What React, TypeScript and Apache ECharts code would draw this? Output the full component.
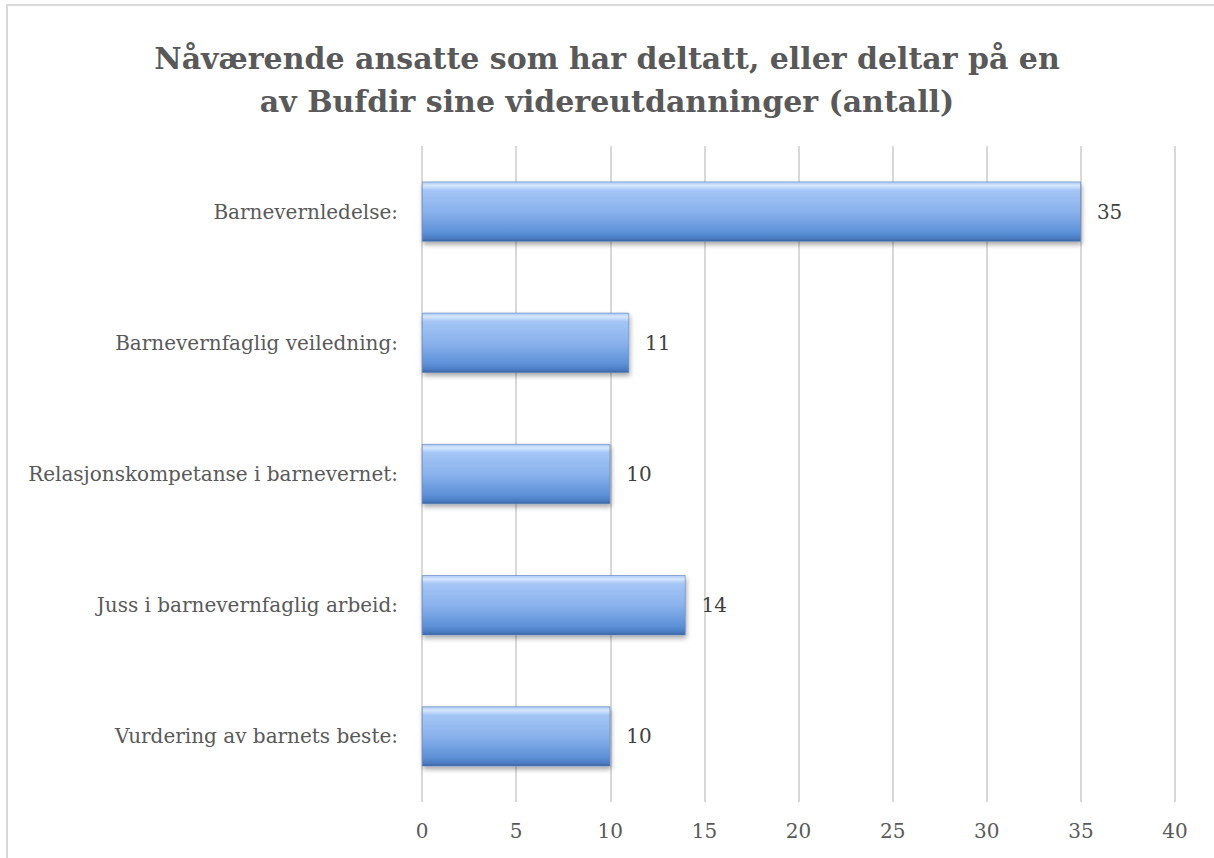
import React, { useEffect, useRef } from "react";
import * as echarts from "echarts";

const titleText = "Nåværende ansatte som har deltatt, eller deltar på en\nav Bufdir sine videreutdanninger (antall)";
const categories = [
  "Barnevernledelse:",
  "Barnevernfaglig veiledning:",
  "Relasjonskompetanse i barnevernet:",
  "Juss i barnevernfaglig arbeid:",
  "Vurdering av barnets beste:",
];
const values = [35, 11, 10, 14, 10];
const axisMax = 40;
const axisInterval = 5;

export default function App() {
  const ref = useRef<HTMLDivElement>(null);
  useEffect(() => {
    document.body.style.margin = "0";
    const chart = echarts.init(ref.current!, null, { renderer: "svg" });
    const font = "'DejaVu Serif', serif";
    chart.setOption({
      animation: false,
      backgroundColor: "#ffffff",
      title: {
        text: titleText,
        left: "center",
        top: 32,
        textStyle: {
          fontFamily: font,
          fontWeight: "bold",
          fontSize: 30,
          lineHeight: 43,
          color: "#595959",
        },
      },
      graphic: [
        {
          type: "rect",
          shape: { x: 7, y: 5, width: 1230, height: 880 },
          style: { fill: "none", stroke: "#d9d9d9", lineWidth: 2 },
          silent: true,
        },
      ],
      grid: { left: 422, right: 39, top: 146, bottom: 56, containLabel: false },
      xAxis: {
        type: "value",
        min: 0,
        max: axisMax,
        interval: axisInterval,
        axisLine: { show: false },
        axisTick: { show: false },
        axisLabel: { fontFamily: font, fontSize: 20, color: "#595959", margin: 19 },
        splitLine: { show: true, lineStyle: { color: "#d9d9d9", width: 2 } },
      },
      yAxis: {
        type: "category",
        data: categories,
        inverse: true,
        axisLine: { show: false },
        axisTick: { show: false },
        axisLabel: { fontFamily: font, fontSize: 20, color: "#595959", margin: 24 },
      },
      series: [
        {
          type: "bar",
          data: values,
          barWidth: 60,
          itemStyle: {
            color: new echarts.graphic.LinearGradient(0, 0, 0, 1, [
              { offset: 0, color: "#a9c8f2" },
              { offset: 0.06, color: "#d6e7fc" },
              { offset: 0.14, color: "#a4c6f6" },
              { offset: 0.5, color: "#8ab2ec" },
              { offset: 0.85, color: "#5d91d8" },
              { offset: 0.95, color: "#4a7cc2" },
              { offset: 1, color: "#3a639e" },
            ]),
            borderColor: "#5783c0",
            borderWidth: 0.6,
            shadowColor: "rgba(0,0,0,0.35)",
            shadowBlur: 5,
            shadowOffsetY: 3,
            shadowOffsetX: 1,
          },
          label: {
            show: true,
            position: "right",
            distance: 16,
            fontFamily: font,
            fontSize: 20,
            color: "#404040",
          },
        },
      ],
    });
    return () => chart.dispose();
  }, []);
  return <div ref={ref} style={{ width: 1214, height: 858 }} />;
}
